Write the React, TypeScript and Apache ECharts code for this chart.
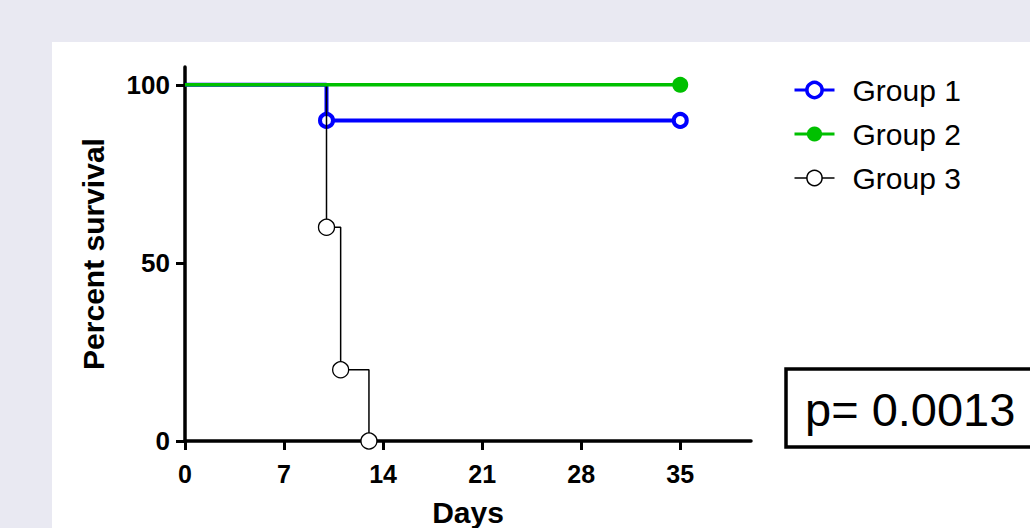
import React, { useEffect, useRef } from "react";
import * as echarts from "echarts";

const xTicks = [0, 7, 14, 21, 28, 35];
const yTicks = [0, 50, 100];

const group1Days = [0, 10, 35];
const group1Survival = [100, 90, 90];
const group1Marked = [false, true, true];

const group2Days = [0, 35];
const group2Survival = [100, 100];
const group2Marked = [false, true];

const group3Days = [0, 10, 11, 13];
const group3Survival = [100, 60, 20, 0];
const group3Marked = [false, true, true, true];

const seriesNames = ["Group 1", "Group 2", "Group 3"];
const pValueText = "p= 0.0013";

const FONT = '"Liberation Sans", Arial, Helvetica, sans-serif';
const BLUE = "#0000ff";
const GREEN = "#00c000";
const BLACK = "#000000";

function buildData(days: number[], surv: number[], marked: boolean[]) {
  return days.map((d, i) =>
    marked[i] ? { value: [d, surv[i]] } : { value: [d, surv[i]], symbol: "none" }
  );
}

export default function App() {
  const ref = useRef<HTMLDivElement>(null);
  useEffect(() => {
    if (!ref.current) return;
    const chart = echarts.init(ref.current, null, { renderer: "svg" });
    chart.setOption({
      animation: false,
      backgroundColor: "#e9e9f2",
      grid: {
        left: 185,
        top: 67,
        width: 566,
        height: 374,
        containLabel: false,
        outerBoundsMode: "none",
      },
      xAxis: {
        type: "value",
        min: 0,
        max: 40,
        name: "Days",
        nameLocation: "middle",
        nameGap: 56,
        nameTextStyle: { fontFamily: FONT, fontWeight: "bold", fontSize: 30, color: "#000" },
        axisLine: { show: true, onZero: false, lineStyle: { color: "#000", width: 3.5 } },
        axisTick: { show: true, inside: false, length: 9, lineStyle: { color: "#000", width: 3 }, customValues: xTicks },
        axisLabel: { fontFamily: FONT, fontWeight: "bold", fontSize: 25, color: "#000", margin: 20, customValues: xTicks },
        splitLine: { show: false },
      },
      yAxis: {
        type: "value",
        min: 0,
        max: 105,
        name: "Percent survival",
        nameLocation: "middle",
        nameGap: 77,
        nameTextStyle: { fontFamily: FONT, fontWeight: "bold", fontSize: 30, color: "#000" },
        axisLine: { show: true, onZero: false, lineStyle: { color: "#000", width: 3.5 } },
        axisTick: { show: true, inside: false, length: 9, lineStyle: { color: "#000", width: 3 }, customValues: yTicks },
        axisLabel: { fontFamily: FONT, fontWeight: "bold", fontSize: 26, color: "#000", margin: 15, customValues: yTicks },
        splitLine: { show: false },
      },
      legend: {
        orient: "vertical",
        left: 788,
        top: 70,
        itemWidth: 40,
        itemHeight: 19,
        itemGap: 14,
        textStyle: { fontFamily: FONT, fontSize: 30, lineHeight: 30, color: "#000", padding: [0, 0, 0, 13] },
        data: [
          {
            name: seriesNames[0],
            itemStyle: { color: "#ffffff", borderColor: BLUE, borderWidth: 3.5 },
            lineStyle: { color: BLUE, width: 3 },
          },
          {
            name: seriesNames[1],
            itemStyle: { color: GREEN, borderWidth: 0 },
            lineStyle: { color: GREEN, width: 3 },
          },
          {
            name: seriesNames[2],
            itemStyle: { color: "#ffffff", borderColor: BLACK, borderWidth: 1.5 },
            lineStyle: { color: BLACK, width: 1.5 },
          },
        ],
      },
      graphic: [
        {
          type: "rect",
          z: -100,
          silent: true,
          shape: { x: 52, y: 42, width: 1000, height: 500 },
          style: { fill: "#ffffff" },
        },
        {
          type: "rect",
          z: 100,
          shape: { x: 786, y: 369, width: 300, height: 78 },
          style: { fill: "#ffffff", stroke: "#000", lineWidth: 3.5 },
        },
        {
          type: "text",
          z: 101,
          x: 805,
          y: 409,
          style: {
            text: pValueText,
            fontFamily: FONT,
            fontSize: 47,
            fill: "#000",
            verticalAlign: "middle",
            align: "left",
          },
        },
      ],
      series: [
        {
          name: seriesNames[0],
          type: "line",
          step: "end",
          z: 2,
          data: buildData(group1Days, group1Survival, group1Marked),
          symbol: "circle",
          symbolSize: 13,
          showSymbol: true,
          lineStyle: { color: BLUE, width: 4 },
          itemStyle: { color: "#ffffff", borderColor: BLUE, borderWidth: 4 },
        },
        {
          name: seriesNames[2],
          type: "line",
          step: "end",
          z: 3,
          data: buildData(group3Days, group3Survival, group3Marked),
          symbol: "circle",
          symbolSize: 16,
          showSymbol: true,
          lineStyle: { color: BLACK, width: 1.5 },
          itemStyle: { color: "#ffffff", borderColor: BLACK, borderWidth: 1.3 },
        },
        {
          name: seriesNames[1],
          type: "line",
          step: "end",
          z: 4,
          data: buildData(group2Days, group2Survival, group2Marked),
          symbol: "circle",
          symbolSize: 16,
          showSymbol: true,
          lineStyle: { color: GREEN, width: 3.5 },
          itemStyle: { color: GREEN },
        },
      ],
    });
    return () => chart.dispose();
  }, []);
  return (
    <div
      ref={ref}
      style={{ position: "fixed", left: 0, top: 0, width: 1030, height: 528 }}
    />
  );
}
